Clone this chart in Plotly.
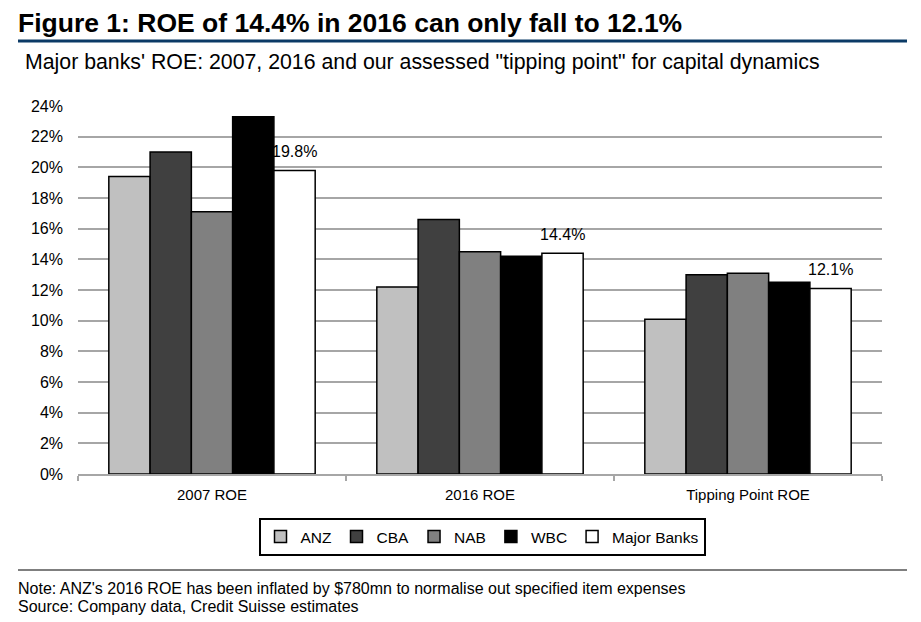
import plotly.graph_objects as go

categories = ["2007 ROE", "2016 ROE", "Tipping Point ROE"]
banks = ["ANZ", "CBA", "NAB", "WBC", "Major Banks"]
anz = [19.4, 12.2, 10.1]
cba = [21.0, 16.6, 13.0]
nab = [17.1, 14.5, 13.1]
wbc = [23.3, 14.2, 12.5]
major = [19.8, 14.4, 12.1]
series = [anz, cba, nab, wbc, major]
colors = ["#c0c0c0", "#404040", "#808080", "#000000", "#ffffff"]
tick_vals = list(range(0, 25, 2))
tick_text = [f"{v}%" for v in tick_vals]

FONT = "Liberation Sans, Arial"
BARGAP = 0.23

fig = go.Figure()
for name, vals, col in zip(banks, series, colors):
    fig.add_trace(go.Bar(x=categories, y=vals, name=name,
                         marker=dict(color=col, line=dict(color="black", width=1.5))))

# page body margin shifts the figure by OFF px; layout helpers use screen px
OFF = 8
W, H = 921, 622
L, R, T, B = 78, 882, 106, 474
def px(x):
    return (x - L) / (R - L)
def py(y):
    return (B - y) / (B - T)

fig.update_layout(
    width=W, height=H,
    margin=dict(l=L - OFF, r=W - R + OFF, t=T - OFF, b=H - B + OFF),
    plot_bgcolor="white", paper_bgcolor="white",
    barmode="group", bargap=BARGAP, bargroupgap=0,
    showlegend=True,
    legend=dict(orientation="h", x=px(482), y=py(537), xanchor="center", yanchor="middle",
                bordercolor="black", borderwidth=2,
                font=dict(family=FONT, size=15.5, color="black"),
                itemwidth=30, tracegroupgap=0),
    xaxis=dict(showline=True, linecolor="#a6a6a6", linewidth=2,
               ticks="outside", tickson="boundaries", ticklen=5, tickcolor="#a6a6a6",
               tickwidth=2, ticklabelstandoff=6,
               tickfont=dict(family=FONT, size=15, color="black")),
    yaxis=dict(range=[0, 24], tickvals=tick_vals, ticktext=tick_text,
               showgrid=True, gridcolor="#a6a6a6", gridwidth=2,
               zeroline=False, showline=False,
               tickfont=dict(family=FONT, size=16, color="black"), ticklabelstandoff=14),
    font=dict(family=FONT, color="black"),
)

# value labels above the "Major Banks" bars (5th bar in each group)
n = len(banks)
bar_w = (1 - BARGAP) / n
mb_offset = (n - 1 - (n - 1) / 2) * bar_w
for i, v in enumerate(major):
    fig.add_annotation(x=i + mb_offset, y=v, text=f"{v:.1f}%", showarrow=False,
                       xref="x", yref="y", yanchor="bottom", yshift=8,
                       font=dict(family=FONT, size=16, color="black"))

fig.add_annotation(text="<b>Figure 1: ROE of 14.4% in 2016 can only fall to 12.1%</b>",
                   xref="paper", yref="paper", x=px(16), y=py(23), xanchor="left",
                   yanchor="middle", showarrow=False,
                   font=dict(family=FONT, size=26.5, color="black"))
fig.add_annotation(text="Major banks' ROE: 2007, 2016 and our assessed \"tipping point\" for capital dynamics",
                   xref="paper", yref="paper", x=px(23), y=py(62), xanchor="left",
                   yanchor="middle", showarrow=False,
                   font=dict(family=FONT, size=21.3, color="black"))
fig.add_annotation(text="Note: ANZ's 2016 ROE has been inflated by $780mn to normalise out specified item expenses",
                   xref="paper", yref="paper", x=px(16), y=py(588), xanchor="left",
                   yanchor="middle", showarrow=False,
                   font=dict(family=FONT, size=16, color="black"))
fig.add_annotation(text="Source: Company data, Credit Suisse estimates",
                   xref="paper", yref="paper", x=px(16), y=py(606), xanchor="left",
                   yanchor="middle", showarrow=False,
                   font=dict(family=FONT, size=16, color="black"))

fig.add_shape(type="line", xref="paper", yref="paper", x0=px(18), x1=px(907),
              y0=py(41), y1=py(41), line=dict(color="#0b3a66", width=3))
fig.add_shape(type="line", xref="paper", yref="paper", x0=px(18), x1=px(907),
              y0=py(570), y1=py(570), line=dict(color="black", width=1.2))

fig.write_html("out.html")
